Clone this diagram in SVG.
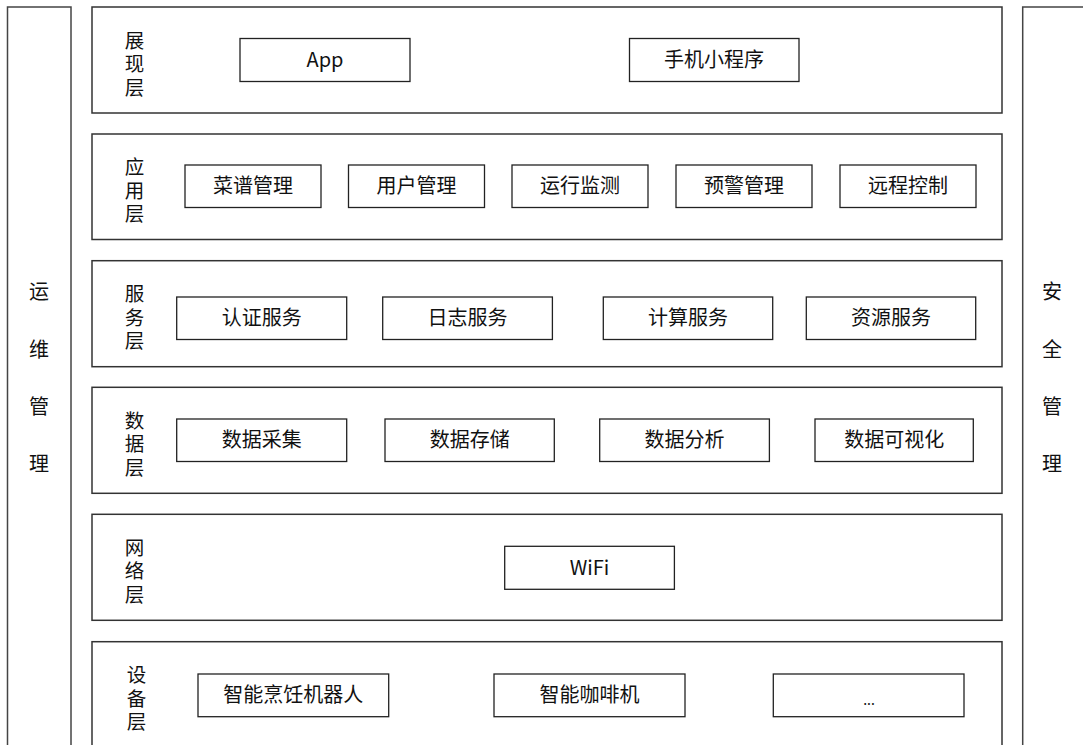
<svg xmlns="http://www.w3.org/2000/svg" width="1083" height="745" viewBox="0 0 1083 745">
<style>
.col{fill:#fff;stroke:#444;stroke-width:1.5}
.layer{fill:#fff;stroke:#333;stroke-width:1.5}
.box{fill:#fff;stroke:#222;stroke-width:1.3}
text{font-family:"Noto Sans CJK SC","Noto Sans",sans-serif;fill:#111}
.t{font-size:20px;text-anchor:middle}
.lbl{font-size:19.5px;text-anchor:middle}
.side{font-size:20px;text-anchor:middle}
</style>
<rect width="1083" height="745" fill="#fff"/>
<g id="ops">
<rect class="col" x="7.5" y="7" width="63.5" height="760"/>
<text class="side" x="39" y="299">运</text>
<text class="side" x="39" y="357">维</text>
<text class="side" x="39" y="414">管</text>
<text class="side" x="39" y="471">理</text>
</g>
<g id="security">
<rect class="col" x="1022.7" y="7" width="100" height="760"/>
<text class="side" x="1052" y="299">安</text>
<text class="side" x="1052" y="357">全</text>
<text class="side" x="1052" y="414">管</text>
<text class="side" x="1052" y="471">理</text>
</g>
<g id="layer-display">
<rect class="layer" x="92" y="7" width="910" height="106"/>
<text class="lbl" x="134.5" y="47.5">展</text>
<text class="lbl" x="134.5" y="71">现</text>
<text class="lbl" x="134.5" y="94.5">层</text>
</g>
<g id="app"><rect class="box" x="240" y="38.5" width="170" height="43"/><text class="t" x="325" y="67">App</text></g>
<g id="miniprogram"><rect class="box" x="629.5" y="38.5" width="169.5" height="43"/><text class="t" x="714" y="67">手机小程序</text></g>

<g id="layer-app">
<rect class="layer" x="92" y="134" width="910" height="105.5"/>
<text class="lbl" x="134.5" y="174">应</text>
<text class="lbl" x="134.5" y="197.5">用</text>
<text class="lbl" x="134.5" y="221">层</text>
</g>
<g id="recipe"><rect class="box" x="185" y="165" width="136" height="42.5"/><text class="t" x="253" y="193">菜谱管理</text></g>
<g id="user"><rect class="box" x="348.5" y="165" width="136" height="42.5"/><text class="t" x="416.5" y="193">用户管理</text></g>
<g id="monitor"><rect class="box" x="512" y="165" width="136" height="42.5"/><text class="t" x="580" y="193">运行监测</text></g>
<g id="alert"><rect class="box" x="676" y="165" width="136" height="42.5"/><text class="t" x="744" y="193">预警管理</text></g>
<g id="remote"><rect class="box" x="840" y="165" width="136" height="42.5"/><text class="t" x="908" y="193">远程控制</text></g>

<g id="layer-service">
<rect class="layer" x="92" y="260.7" width="910" height="106"/>
<text class="lbl" x="134.5" y="301">服</text>
<text class="lbl" x="134.5" y="324.5">务</text>
<text class="lbl" x="134.5" y="348">层</text>
</g>
<g id="auth"><rect class="box" x="176.7" y="297" width="170" height="42.5"/><text class="t" x="261.7" y="325">认证服务</text></g>
<g id="log"><rect class="box" x="382.7" y="297" width="169.7" height="42.5"/><text class="t" x="467.5" y="325">日志服务</text></g>
<g id="compute"><rect class="box" x="603.3" y="297" width="169.4" height="42.5"/><text class="t" x="688" y="325">计算服务</text></g>
<g id="resource"><rect class="box" x="806.3" y="297" width="169.4" height="42.5"/><text class="t" x="891" y="325">资源服务</text></g>

<g id="layer-data">
<rect class="layer" x="92" y="387.3" width="910" height="106"/>
<text class="lbl" x="134.5" y="427.5">数</text>
<text class="lbl" x="134.5" y="451">据</text>
<text class="lbl" x="134.5" y="474.5">层</text>
</g>
<g id="collect"><rect class="box" x="176.7" y="419" width="170" height="42.5"/><text class="t" x="261.7" y="447">数据采集</text></g>
<g id="store"><rect class="box" x="385" y="419" width="169.3" height="42.5"/><text class="t" x="469.7" y="447">数据存储</text></g>
<g id="analyze"><rect class="box" x="599.7" y="419" width="169.7" height="42.5"/><text class="t" x="684.5" y="447">数据分析</text></g>
<g id="visual"><rect class="box" x="815" y="419" width="158.3" height="42.5"/><text class="t" x="894.2" y="447">数据可视化</text></g>

<g id="layer-network">
<rect class="layer" x="92" y="514.3" width="910" height="106"/>
<text class="lbl" x="134.5" y="554.5">网</text>
<text class="lbl" x="134.5" y="578">络</text>
<text class="lbl" x="134.5" y="601.5">层</text>
</g>
<g id="wifi"><rect class="box" x="504.7" y="546.3" width="169.7" height="43"/><text class="t" x="589.5" y="575">WiFi</text></g>

<g id="layer-device">
<rect class="layer" x="92" y="641.7" width="910" height="120"/>
<text class="lbl" x="136.5" y="682">设</text>
<text class="lbl" x="136.5" y="705.5">备</text>
<text class="lbl" x="136.5" y="729">层</text>
</g>
<g id="robot"><rect class="box" x="198" y="674" width="190.7" height="42.7"/><text class="t" x="293.3" y="702">智能烹饪机器人</text></g>
<g id="coffee"><rect class="box" x="494" y="674" width="191" height="42.7"/><text class="t" x="589.5" y="702">智能咖啡机</text></g>
<g id="more"><rect class="box" x="773.3" y="674" width="190.7" height="42.7"/><text class="t" x="869" y="705" style="font-size:14px">...</text></g>
<g id="connectors"></g>
</svg>
